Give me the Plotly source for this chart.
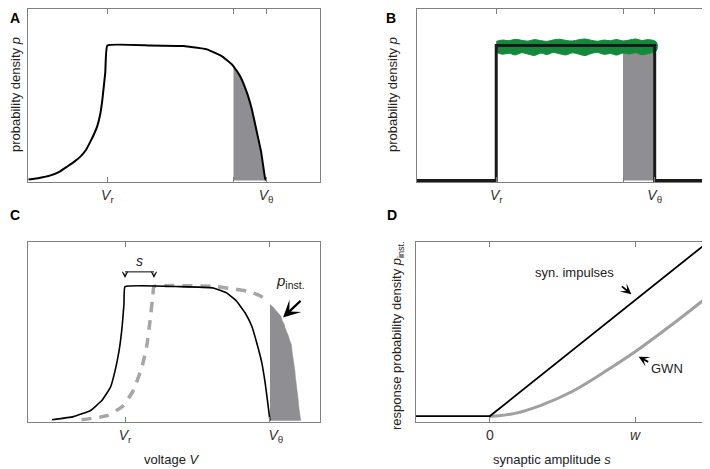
import plotly.graph_objects as go

# panel A: stationary density (V_r = 0, V_theta = 1)
a_x = [-0.497, -0.43, -0.358, -0.30, -0.252, -0.21, -0.170, -0.135, -0.107, -0.085, -0.063,
       -0.045, -0.031, -0.013, 0.0,
       0.27, 0.48, 0.627, 0.721, 0.784, 0.795, 0.836, 0.879, 0.91, 0.942, 0.969, 0.994, 1.0]
a_y = [0.007, 0.018, 0.037, 0.065, 0.103, 0.137, 0.176, 0.225, 0.287, 0.34, 0.404,
       0.49, 0.603, 0.801, 1.0,
       1.0, 0.995, 0.971, 0.921, 0.86, 0.845, 0.774, 0.652, 0.529, 0.358, 0.211, 0.015, 0.0]
a_shade_from = 0.795

# panel B: flat density with simulated histogram (green band)
b_x = [-0.5, 0.0, 0.0, 1.0, 1.0, 1.33]
b_y = [0.0, 0.0, 1.0, 1.0, 0.0, 0.0]
green_x = [0.0, 0.04, 0.08, 0.12, 0.16, 0.20, 0.24, 0.28, 0.32, 0.36, 0.40, 0.44, 0.48,
           0.52, 0.56, 0.60, 0.64, 0.68, 0.72, 0.76, 0.80, 0.84, 0.88, 0.92, 0.96, 1.01]
green_hi = [1.03, 1.04, 1.035, 1.045, 1.038, 1.032, 1.043, 1.036, 1.03, 1.041, 1.046, 1.037, 1.033,
            1.042, 1.048, 1.038, 1.031, 1.04, 1.035, 1.044, 1.033, 1.04, 1.048, 1.036, 1.043, 1.025]
green_lo = [0.95, 0.935, 0.942, 0.93, 0.946, 0.936, 0.926, 0.943, 0.933, 0.948, 0.938, 0.93, 0.945,
            0.936, 0.925, 0.941, 0.948, 0.934, 0.94, 0.929, 0.944, 0.937, 0.946, 0.931, 0.94, 0.96]
b_shade_x = [0.80, 1.0]
b_shade_y = [1.0, 1.0]

# panel C: density before (solid) and after (dashed) a jump of size s
c_x = [-0.503, -0.356, -0.24, -0.16, -0.10, -0.069, -0.041, -0.02, -0.007, 0.0,
       0.379, 0.609, 0.701, 0.77, 0.828, 0.874, 0.908, 0.943, 0.966, 0.984, 1.0]
c_y = [0.007, 0.03, 0.074, 0.15, 0.25, 0.37, 0.52, 0.70, 0.87, 1.0,
       1.0, 0.99, 0.953, 0.891, 0.805, 0.706, 0.583, 0.435, 0.287, 0.139, 0.0]
cd_x = [-0.30, -0.124, -0.014, 0.055, 0.117, 0.152, 0.172, 0.193, 0.2, 0.63, 0.747, 0.85, 0.931, 0.988]
cd_y = [0.007, 0.037, 0.11, 0.22, 0.40, 0.57, 0.74, 0.94, 1.0, 1.0, 0.983, 0.965, 0.933, 0.89]
pinst_x = [1.0, 1.02, 1.035, 1.06, 1.075, 1.085, 1.098, 1.105, 1.117, 1.128, 1.136, 1.148,
           1.152, 1.16, 1.164, 1.172, 1.176, 1.183, 1.186, 1.194, 1.198, 1.205, 1.212]
pinst_y = [0.867, 0.85, 0.83, 0.80, 0.78, 0.745, 0.72, 0.69, 0.665, 0.63, 0.6, 0.565,
           0.52, 0.47, 0.42, 0.37, 0.32, 0.27, 0.22, 0.16, 0.11, 0.06, 0.0]
s_jump = 0.2

# panel D: response vs synaptic amplitude (w = 1)
syn_x = [-0.51, 0.0, 1.503]
syn_y = [0.033, 0.033, 1.0]
gwn_x = [0.0, 0.172, 0.356, 0.563, 0.793, 1.0, 1.253, 1.501]
gwn_y = [0.03, 0.048, 0.094, 0.168, 0.28, 0.39, 0.54, 0.696]

FONT = "Liberation Sans, Arial, sans-serif"
GREY_AX = "#808080"
SHADE = "#8f8f93"
OFF = 8  # page margin of the html body
W, H = 710 - OFF, 469 - OFF


def px(x):
    return (x - OFF) / W


def py(y):
    return 1 - (y - OFF) / H


def dom_x(a, b):
    return [max(px(a), 0), min(px(b), 1)]


def dom_y(top, bottom):
    return [max(py(bottom), 0), min(py(top), 1)]


fig = go.Figure()

# A
a_sx = [x for x in a_x if x >= a_shade_from]
a_sy = [y for x, y in zip(a_x, a_y) if x >= a_shade_from]
fig.add_trace(go.Scatter(x=a_sx, y=a_sy, fill="tozeroy", fillcolor=SHADE, mode="lines",
                         line=dict(width=0, color=SHADE, shape="spline"), xaxis="x", yaxis="y"))
fig.add_trace(go.Scatter(x=a_x, y=a_y, mode="lines",
                         line=dict(color="black", width=2, shape="spline", smoothing=0.3),
                         xaxis="x", yaxis="y"))

# B
fig.add_trace(go.Scatter(x=b_shade_x, y=b_shade_y, fill="tozeroy", fillcolor=SHADE, mode="lines",
                         line=dict(width=0, color=SHADE), xaxis="x2", yaxis="y2"))
fig.add_trace(go.Scatter(x=green_x + green_x[::-1], y=green_hi + green_lo[::-1], fill="toself",
                         fillcolor="#14893c", mode="lines",
                         line=dict(width=1, color="#14893c", shape="spline"),
                         xaxis="x2", yaxis="y2"))
fig.add_trace(go.Scatter(x=b_x, y=b_y, mode="lines", line=dict(color="#1a1a1a", width=3),
                         xaxis="x2", yaxis="y2"))

# C
fig.add_trace(go.Scatter(x=pinst_x, y=pinst_y, fill="tozeroy", fillcolor=SHADE, mode="lines",
                         line=dict(width=0.5, color=SHADE), xaxis="x3", yaxis="y3"))
fig.add_trace(go.Scatter(x=cd_x, y=cd_y, mode="lines",
                         line=dict(color="#a6a6a6", width=3.5, dash="10px,8px",
                                   shape="spline", smoothing=0.4),
                         xaxis="x3", yaxis="y3"))
fig.add_trace(go.Scatter(x=c_x, y=c_y, mode="lines",
                         line=dict(color="black", width=1.6, shape="spline", smoothing=0.3),
                         xaxis="x3", yaxis="y3"))

# D
fig.add_trace(go.Scatter(x=gwn_x, y=gwn_y, mode="lines",
                         line=dict(color="#a0a0a0", width=3, shape="spline"),
                         xaxis="x4", yaxis="y4"))
fig.add_trace(go.Scatter(x=syn_x, y=syn_y, mode="lines", line=dict(color="black", width=1.8),
                         xaxis="x4", yaxis="y4"))

vt = "<i>V</i><sub>r</sub>"
vth = "<i>V</i><sub>θ</sub>"


def xax(domain, anchor, rng, vals, texts):
    return dict(domain=domain, anchor=anchor, range=rng, showgrid=False, zeroline=False,
                showline=True, linecolor=GREY_AX, linewidth=1, mirror="ticks",
                ticks="inside", ticklen=5, tickcolor=GREY_AX, tickwidth=1,
                tickvals=vals, ticktext=texts, tickfont=dict(size=14, family=FONT, color="#333"))


def yax(domain, anchor, rng):
    return dict(domain=domain, anchor=anchor, range=rng, showgrid=False, zeroline=False,
                showline=True, linecolor=GREY_AX, linewidth=1, mirror=True,
                ticks="", showticklabels=False)


fig.update_layout(
    width=W, height=H, margin=dict(l=0, r=0, t=0, b=0), showlegend=False,
    plot_bgcolor="white", paper_bgcolor="white",
    font=dict(family=FONT, size=13, color="#222"),
    xaxis=xax(dom_x(28, 320), "y", [-0.5, 1.34], [0, a_shade_from, 1], [vt, "", vth]),
    yaxis=yax(dom_y(9, 182), "x", [-0.012, 1.27]),
    xaxis2=xax(dom_x(417, 707), "y2", [-0.5, 1.33], [0, 0.80, 1], [vt, "", vth]),
    yaxis2=yax(dom_y(9, 182), "x2", [-0.012, 1.27]),
    xaxis3=xax(dom_x(28, 320), "y3", [-0.669, 1.345], [0, 1],
               [vt, "&nbsp;&nbsp;&nbsp;" + vth]),
    yaxis3=yax(dom_y(242, 422), "x3", [-0.01, 1.333]),
    xaxis4=xax(dom_x(416, 708), "y4", [-0.51, 1.503], [0, 1], ["0", "<i>w</i>"]),
    yaxis4=yax(dom_y(242, 422), "x4", [0, 1.0]),
)


def label(x, y, text, **kw):
    d = dict(x=px(x), y=py(y), xref="paper", yref="paper", text=text, showarrow=False,
             xanchor="center", yanchor="middle")
    d.update(kw)
    return d


ann = []
# panel letters
for letter, lx, ly, ya in [("A", 8, 8, "top"), ("B", 384, 8, "top"),
                           ("C", 8, 215, "middle"), ("D", 385, 215, "middle")]:
    ann.append(label(lx, ly, "<b>%s</b>" % letter, xanchor="left", yanchor=ya,
                     font=dict(size=14, color="black")))
# axis titles
ann.append(label(16, 95, "probability density <i>p</i>", textangle=-90))
ann.append(label(393, 95, "probability density <i>p</i>", textangle=-90))
ann.append(label(397, 336, "response probability density <i>p</i><sub>inst.</sub>", textangle=-90))
ann.append(label(172, 459, "voltage <i>V</i>"))
ann.append(label(552, 459, "synaptic amplitude <i>s</i>"))

# C: jump size bracket and p_inst label
ann.append(dict(x=s_jump / 2, y=1.19, xref="x3", yref="y3", text="<i>s</i>", showarrow=False,
                font=dict(size=14)))
for bx in [0, s_jump]:
    ann.append(dict(x=bx, y=1.065, xref="x3", yref="y3", ax=bx, ay=1.11, axref="x3", ayref="y3",
                    text="", showarrow=True, arrowhead=5, arrowsize=1, arrowwidth=1,
                    arrowcolor="black"))
ann.append(dict(x=1.14, y=1.04, xref="x3", yref="y3", text="<i>p</i><sub>inst.</sub>",
                showarrow=False, font=dict(size=15)))
ann.append(dict(x=1.09, y=0.77, xref="x3", yref="y3", ax=19, ay=-18, text="", showarrow=True,
                arrowhead=3, arrowsize=1.3, arrowwidth=2.2, arrowcolor="black"))

# D labels
ann.append(dict(x=0.586, y=0.833, xref="x4", yref="y4", text="syn. impulses", showarrow=False))
ann.append(dict(x=0.975, y=0.71, xref="x4", yref="y4", ax=-11, ay=-9, text="", showarrow=True,
                arrowhead=3, arrowsize=1, arrowwidth=1.8, arrowcolor="black"))
ann.append(dict(x=1.22, y=0.30, xref="x4", yref="y4", text="GWN", showarrow=False))
ann.append(dict(x=1.025, y=0.363, xref="x4", yref="y4", ax=11, ay=6, text="", showarrow=True,
                arrowhead=3, arrowsize=1, arrowwidth=1.8, arrowcolor="black"))

fig.update_layout(annotations=ann,
                  shapes=[dict(type="line", xref="x3", yref="y3", x0=0, x1=s_jump, y0=1.11, y1=1.11,
                               line=dict(color="black", width=1))])

fig.write_html("out.html")
